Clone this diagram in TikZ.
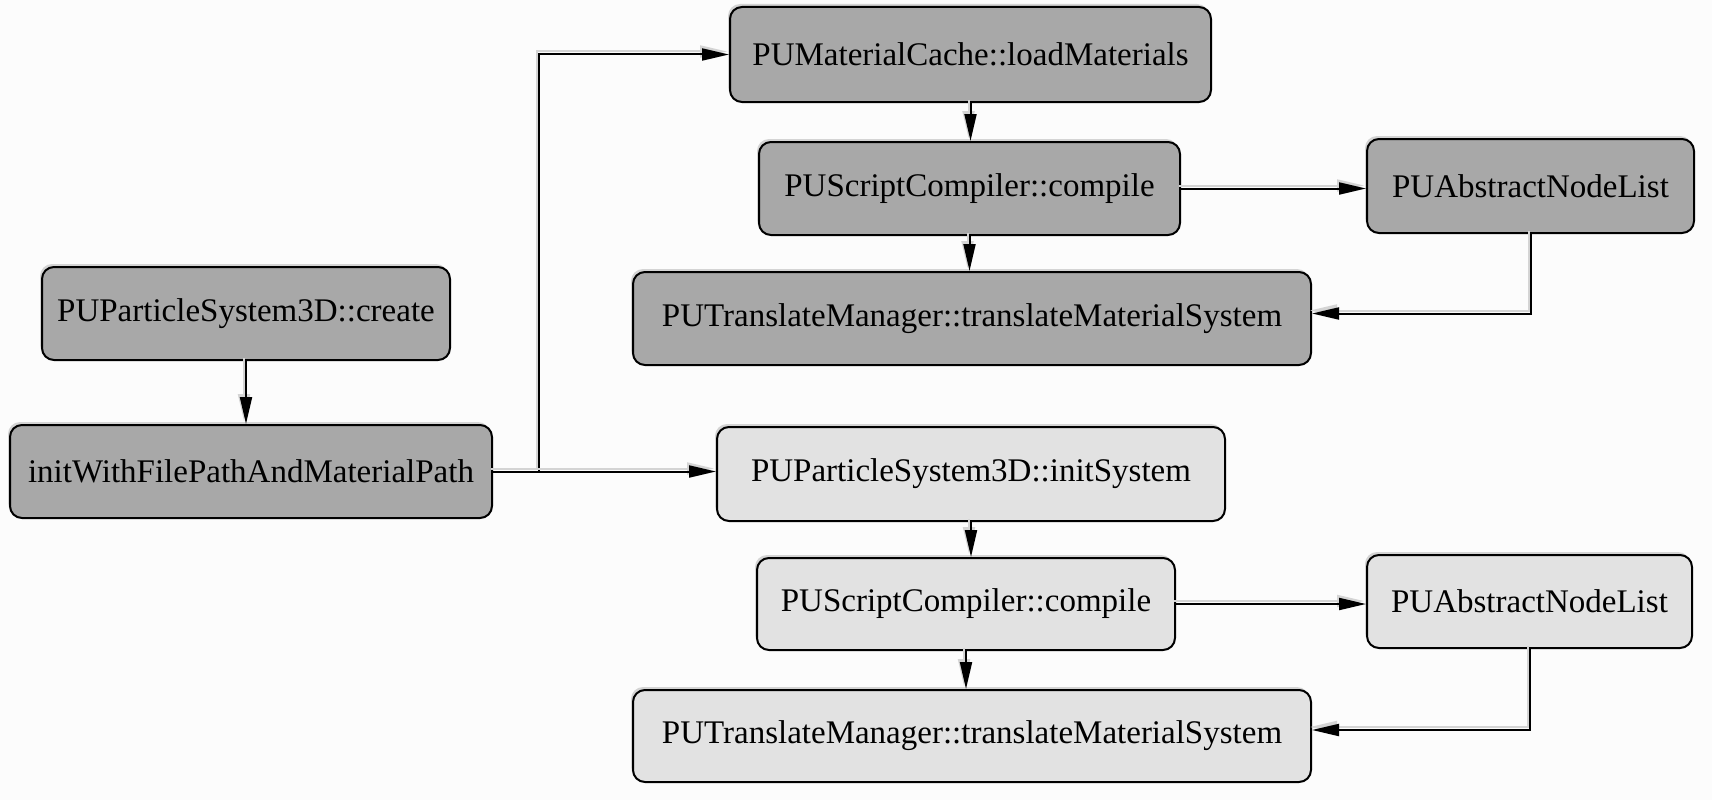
\documentclass[tikz,border=0pt]{standalone}
\usepackage{fontspec}
\setmainfont{Liberation Serif}
\usetikzlibrary{arrows.meta,shadows,calc}
\definecolor{bgc}{RGB}{252,252,252}
\definecolor{darkfill}{RGB}{168,168,168}
\definecolor{lightfill}{RGB}{226,226,226}
\definecolor{shade}{RGB}{212,212,212}
\newcommand\mkconn[1]{\draw[eshadow] #1; \draw[edge] #1;}
\begin{document}
\begin{tikzpicture}[x=1pt,y=-1pt,
  box/.style={draw=black, line width=2pt, rounded corners=12pt, inner sep=0pt,
    font=\fontsize{33}{40}\selectfont,
    general shadow={fill=shade, shadow xshift=-2pt, shadow yshift=3pt}},
  dark/.style={box, fill=darkfill},
  light/.style={box, fill=lightfill},
  edge/.style={line width=2pt, draw=black, -{Triangle[length=27pt,width=12pt]}},
  eshadow/.style={edge, draw=shade, transform canvas={shift={(-2pt,3pt)}}}]
\fill[bgc] (0,0) rectangle (1712,800);
\useasboundingbox (0,0) rectangle (1712,800);

\node[dark, minimum width=408pt, minimum height=93pt] (create) at (246,313.5) {PUParticleSystem3D::create};
\node[dark, minimum width=482pt, minimum height=93pt] (init) at (251,471.5) {initWithFilePathAndMaterialPath};
\node[dark, minimum width=481pt, minimum height=95pt] (lm) at (970.5,54.5) {PUMaterialCache::loadMaterials};
\node[dark, minimum width=421pt, minimum height=93pt] (c1) at (969.5,188.5) {PUScriptCompiler::compile};
\node[dark, minimum width=327pt, minimum height=94pt] (a1) at (1530.5,186) {PUAbstractNodeList};
\node[dark, minimum width=678pt, minimum height=93pt] (t1) at (972,318.5) {PUTranslateManager::translateMaterialSystem};
\node[light, minimum width=508pt, minimum height=94pt] (is) at (971,474) {PUParticleSystem3D::initSystem};
\node[light, minimum width=418pt, minimum height=92pt] (c2) at (966,604) {PUScriptCompiler::compile};
\node[light, minimum width=325pt, minimum height=93pt] (a2) at (1529.5,601.5) {PUAbstractNodeList};
\node[light, minimum width=678pt, minimum height=92pt] (t2) at (972,736) {PUTranslateManager::translateMaterialSystem};

\coordinate (j) at (539,471.5);

\mkconn{(create.south) -- (create.south |- init.north)}
\mkconn{(init.east) -- (j) |- (lm.west)}
\mkconn{(init.east) -- (init.east -| is.west)}
\mkconn{(lm.south) -- (lm.south |- c1.north)}
\mkconn{(c1.south) -- (c1.south |- t1.north)}
\mkconn{(c1.east) -- (c1.east -| a1.west)}
\mkconn{(a1.south) |- ($(t1.east)+(0,-5)$)}
\mkconn{(is.south) -- (is.south |- c2.north)}
\mkconn{(c2.south) -- (c2.south |- t2.north)}
\mkconn{(c2.east) -- (c2.east -| a2.west)}
\mkconn{(a2.south) |- ($(t2.east)+(0,-6)$)}
\end{tikzpicture}
\end{document}
